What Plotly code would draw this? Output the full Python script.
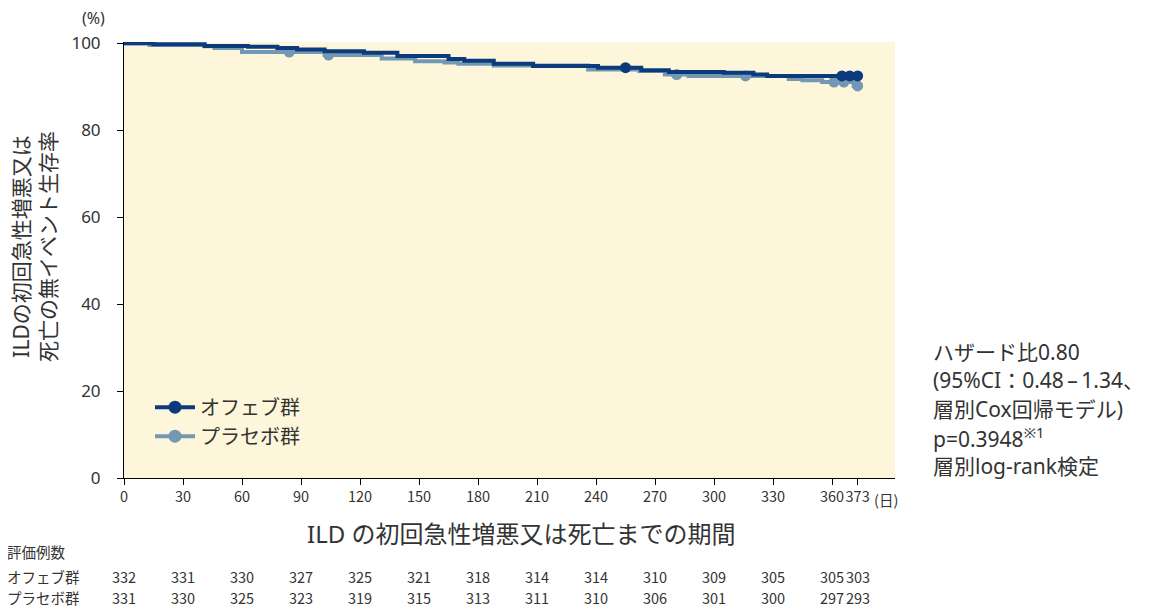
import plotly.graph_objects as go

# Kaplan-Meier steps (day, survival %)
ofev_days = [0, 15, 41, 63, 78, 88, 102, 122, 139, 165, 173, 188, 208, 241, 263, 277, 305, 320, 327, 373]
ofev_surv = [100, 99.8, 99.4, 99.2, 98.9, 98.6, 98.2, 97.8, 97.1, 96.4, 96.0, 95.3, 94.8, 94.4, 93.8, 93.4, 93.2, 92.8, 92.5, 92.5]
ofev_cens_days = [255, 365, 369, 373]
ofev_cens_surv = [94.4, 92.5, 92.5, 92.5]

plac_days = [0, 13, 41, 46, 60, 102, 131, 148, 163, 170, 188, 236, 262, 275, 287, 338, 345, 355, 371, 373]
plac_surv = [100, 99.6, 99.3, 98.9, 98.0, 97.3, 96.5, 95.9, 95.6, 95.3, 94.9, 94.0, 93.6, 92.8, 92.5, 91.8, 91.5, 91.1, 90.2, 90.2]
plac_cens_days = [84, 104, 281, 316, 361, 366, 373]
plac_cens_surv = [98.0, 97.3, 92.8, 92.5, 91.1, 91.1, 90.2]

# number at risk table
risk_days = [0, 30, 60, 90, 120, 150, 180, 210, 240, 270, 300, 330, 360, 373]
ofev_risk = [332, 331, 330, 327, 325, 321, 318, 314, 314, 310, 309, 305, 305, 303]
plac_risk = [331, 330, 325, 323, 319, 315, 313, 311, 310, 306, 301, 300, 297, 293]

x_ticks = risk_days
y_ticks = [0, 20, 40, 60, 80, 100]

stats_lines = ["ハザード比0.80", "(95%CI：0.48\u2009–\u20091.34、", "層別Cox回帰モデル)",
               "p=0.3948<sup>※1</sup>", "層別log-rank検定"]

DARK = "#0B3B7C"
LIGHT = "#7298B4"
BG = "#FDF6DA"
TXT = "#333333"
JP = "Noto Sans CJK JP"
WIDE = "Noto Sans, " + JP

# page has an 8px body margin, so the figure is 8px smaller
OFF = 8
W, H = 1161 - OFF, 610 - OFF
L, R, T, B = 124, 895, 41.7, 478.5   # plot area in page pixels


def px(x):
    return (x - L) / (R - L)


def py(y):
    return (B - y) / (B - T)


fig = go.Figure()

fig.add_trace(go.Scatter(x=plac_days, y=plac_surv, mode="lines", line=dict(color=LIGHT, width=4, shape="hv"),
                         showlegend=False, hoverinfo="skip"))
fig.add_trace(go.Scatter(x=plac_cens_days, y=plac_cens_surv, mode="markers",
                         marker=dict(color=LIGHT, size=11), showlegend=False))
fig.add_trace(go.Scatter(x=ofev_days, y=ofev_surv, mode="lines", line=dict(color=DARK, width=4, shape="hv"),
                         showlegend=False, hoverinfo="skip"))
fig.add_trace(go.Scatter(x=ofev_cens_days, y=ofev_cens_surv, mode="markers",
                         marker=dict(color=DARK, size=11), showlegend=False))

# legend entries
fig.add_trace(go.Scatter(x=[None], y=[None], mode="lines+markers", name="オフェブ群",
                         line=dict(color=DARK, width=4), marker=dict(color=DARK, size=13), legendrank=1))
fig.add_trace(go.Scatter(x=[None], y=[None], mode="lines+markers", name="プラセボ群",
                         line=dict(color=LIGHT, width=4), marker=dict(color=LIGHT, size=13), legendrank=2))

ann = []
# axis titles and units
ann.append(dict(x=px(35), y=py(247), text="ILDの初回急性増悪又は<br>死亡の無イベント生存率", textangle=-90,
                font=dict(size=21, color=TXT, family=WIDE)))
ann.append(dict(x=px(521), y=py(534), text="ILD の初回急性増悪又は死亡までの期間",
                font=dict(size=24, color=TXT, family=WIDE)))
ann.append(dict(x=px(93), y=py(18), text="(%)", font=dict(size=16, color=TXT, family=WIDE)))
ann.append(dict(x=px(886), y=py(500), text="(日)", font=dict(size=14.5, color=TXT, family=JP)))

# stats text
for i, line in enumerate(stats_lines):
    ann.append(dict(x=px(931), y=py(352 + i * 28.5), text=line, xanchor="left",
                    font=dict(size=21, color=TXT, family=WIDE)))

# at-risk table
ann.append(dict(x=px(5), y=py(552), text="評価例数", xanchor="left", font=dict(size=14.5, color=TXT, family=JP)))
ann.append(dict(x=px(5), y=py(577), text="オフェブ群", xanchor="left", font=dict(size=14.5, color=TXT, family=JP)))
ann.append(dict(x=px(5), y=py(598), text="プラセボ群", xanchor="left", font=dict(size=14.5, color=TXT, family=JP)))
for d, a, b in zip(risk_days, ofev_risk, plac_risk):
    ann.append(dict(x=d, xref="x", y=py(577), text=str(a), font=dict(size=14.5, color=TXT, family=JP)))
    ann.append(dict(x=d, xref="x", y=py(598), text=str(b), font=dict(size=14.5, color=TXT, family=JP)))

for a in ann:
    a.setdefault("xref", "paper")
    a.setdefault("xanchor", "center")
    a["yanchor"] = "middle"
    a["yref"] = "paper"
    a["showarrow"] = False

fig.update_layout(
    width=W, height=H,
    margin=dict(l=L - OFF, r=W - (R - OFF), t=T - OFF, b=H - (B - OFF), pad=0, autoexpand=False),
    paper_bgcolor="white", plot_bgcolor=BG,
    font=dict(family=JP, color=TXT),
    annotations=ann,
    showlegend=True,
    legend=dict(x=px(150), y=py(388), xanchor="left", yanchor="top", bgcolor="rgba(0,0,0,0)",
                font=dict(size=20, color=TXT, family=JP), tracegroupgap=0, itemwidth=40),
)
fig.update_xaxes(range=[0, 392], tickvals=x_ticks, ticktext=[str(v) for v in x_ticks], tickangle=0,
                 automargin=False, showline=True, linecolor="black", linewidth=1, ticks="outside",
                 ticklen=6, tickcolor="black", showgrid=False, zeroline=False,
                 tickfont=dict(size=14.5, color=TXT, family=JP))
fig.update_yaxes(range=[0, 100.3], tickvals=y_ticks, automargin=False, showline=True, linecolor="black",
                 linewidth=1, ticks="outside", ticklen=6, tickcolor="black", showgrid=False, zeroline=False,
                 tickfont=dict(size=17, color=TXT, family=WIDE), ticklabelstandoff=13)

fig.write_html("out.html")
